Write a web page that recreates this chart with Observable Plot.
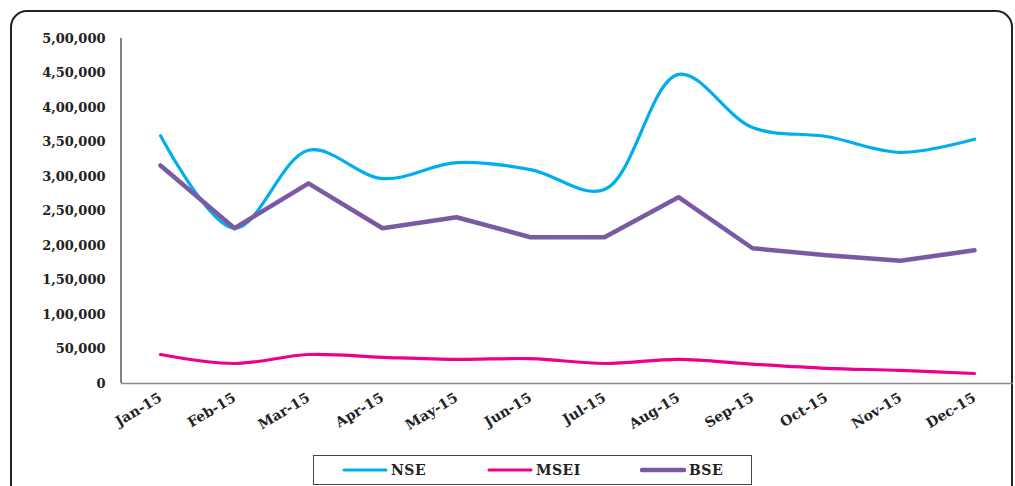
<!DOCTYPE html>
<html>
<head>
<meta charset="utf-8">
<script src="https://cdn.jsdelivr.net/npm/d3@7"></script>
<script src="https://cdn.jsdelivr.net/npm/@observablehq/plot@0.6"></script>
<style>
  html, body { margin: 0; padding: 0; background: #fff; }
  #wrap { position: relative; width: 1015px; height: 486px; overflow: hidden; }
  #border { position: absolute; left: 10px; top: 10px; width: 1003px; height: 540px; box-sizing: border-box;
            border: 2px solid #222; border-radius: 17px; }
  #chart { position: absolute; left: 0; top: 0; }
  #legend { position: absolute; left: 313px; top: 455px; width: 439px; height: 30px; box-sizing: border-box;
            border: 1.5px solid #444; background: #fff; font-family: "DejaVu Serif", serif; font-weight: bold;
            font-size: 14px; color: #222; }
  .item { position: absolute; top: 0; height: 27px; display: flex; align-items: center; }
  .item svg { display: block; }
  .item span { margin-left: 3px; letter-spacing: 0.5px; }
</style>
</head>
<body>
<div id="wrap">
  <div id="border"></div>
  <div id="chart"></div>
  <div id="legend"></div>
</div>
<script>
const months = ["Jan-15","Feb-15","Mar-15","Apr-15","May-15","Jun-15","Jul-15","Aug-15","Sep-15","Oct-15","Nov-15","Dec-15"];
const nse  = [359000, 225000, 338000, 297000, 320000, 310000, 281000, 448000, 371000, 358000, 335000, 354000];
const msei = [42000, 29000, 42000, 38000, 35000, 36000, 29000, 35000, 28000, 22000, 19000, 14500];
const bse  = [316000, 225000, 290000, 225000, 241000, 212000, 212000, 270000, 196000, 186000, 178000, 193000];
const yTicks = [0, 50000, 100000, 150000, 200000, 250000, 300000, 350000, 400000, 450000, 500000];
const yTickLabels = ["0","50,000","1,00,000","1,50,000","2,00,000","2,50,000","3,00,000","3,50,000","4,00,000","4,50,000","5,00,000"];
const seriesNames = ["NSE", "MSEI", "BSE"];
const seriesColors = ["#00AEEF", "#EC008C", "#7B5AA4"];

const toRows = (vals) => months.map((m, i) => ({month: m, value: vals[i]}));

const yAxisLine = (index, scales, values, dims) => {
  const l = document.createElementNS("http://www.w3.org/2000/svg", "line");
  l.setAttribute("x1", dims.marginLeft); l.setAttribute("x2", dims.marginLeft);
  l.setAttribute("y1", scales.y(500000)); l.setAttribute("y2", scales.y(0));
  l.setAttribute("stroke", "#333"); l.setAttribute("stroke-width", "1.2");
  return l;
};

const plot = Plot.plot({
  width: 1015,
  height: 445,
  marginLeft: 121,
  marginRight: 2,
  marginTop: 38,
  marginBottom: 62,
  style: {fontFamily: "'DejaVu Serif', serif", fontWeight: "bold", fontSize: "13px", color: "#222", background: "transparent", overflow: "visible"},
  x: {type: "point", domain: months, padding: 0.5, label: null},
  y: {domain: [0, 500000], label: null},
  marks: [
    Plot.axisY({ticks: yTicks, tickFormat: d => yTickLabels[yTicks.indexOf(d)], tickSize: 0, tickPadding: 16, label: null}),
    Plot.axisX({tickRotate: -31, tickSize: 0, tickPadding: 13, fontSize: 14, label: null}),
    Plot.ruleY([0], {stroke: "#888", strokeWidth: 1.5}),
    yAxisLine,
    Plot.line(toRows(msei), {x: "month", y: "value", stroke: seriesColors[1], strokeWidth: 3.2, curve: "catmull-rom"}),
    Plot.line(toRows(nse), {x: "month", y: "value", stroke: seriesColors[0], strokeWidth: 3.2, curve: "catmull-rom"}),
    Plot.line(toRows(bse), {x: "month", y: "value", stroke: seriesColors[2], strokeWidth: 4.5, curve: "linear"})
  ]
});
document.getElementById("chart").appendChild(plot);

const legend = document.getElementById("legend");
const lefts = [28, 173, 326];
const widths = [3, 3, 4.5];
seriesNames.forEach((name, i) => {
  const d = document.createElement("div");
  d.className = "item";
  d.style.left = lefts[i] + "px";
  d.innerHTML = `<svg width="46" height="10"><line x1="2" x2="44" y1="5" y2="5" stroke="${seriesColors[i]}" stroke-width="${widths[i]}" stroke-linecap="round"/></svg><span>${name}</span>`;
  legend.appendChild(d);
});
</script>
</body>
</html>
